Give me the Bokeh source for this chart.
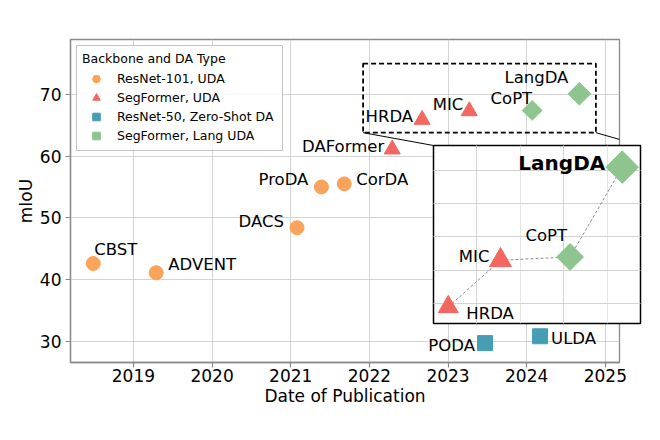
import math
from bokeh.plotting import figure
from bokeh.models import ColumnDataSource, Arrow, Grid, SingleIntervalTicker, FixedTicker
from bokeh.core.properties import value
from bokeh.embed import file_html
from bokeh.resources import INLINE

# ---------------- data ----------------
resnet101_names = ["CBST", "ADVENT", "DACS", "ProDA", "CorDA"]
resnet101_dates = [2018.49, 2019.29, 2021.08, 2021.39, 2021.68]
resnet101_miou = [42.6, 41.1, 48.4, 55.0, 55.5]

segformer_names = ["DAFormer", "HRDA", "MIC"]
segformer_dates = [2022.29, 2022.67, 2023.27]
segformer_miou = [61.1, 65.9, 67.3]

resnet50_zs_names = ["PODA", "ULDA"]
resnet50_zs_dates = [2023.47, 2024.17]
resnet50_zs_miou = [29.7, 30.8]

lang_names = ["CoPT", "LangDA"]
lang_dates = [2024.07, 2024.67]
lang_miou = [67.4, 70.1]

year_ticks = [2019, 2020, 2021, 2022, 2023, 2024, 2025]
miou_ticks = [30, 40, 50, 60, 70]

inset_names = ["HRDA", "MIC", "CoPT", "LangDA"]
zoom_box_x = [2021.92, 2024.88]
zoom_box_y = [63.8, 75.0]
inset_x_lim = [2022.5, 2024.88]
inset_y_lim = [65.4, 70.75]

# ---------------- style ----------------
FONT = "DejaVu Sans"
C_ORANGE = "#F9A35B"
C_RED = "#F26760"
C_TEAL = "#469EB4"
C_GREEN = "#8EC48E"
GRID = "#d3d3d3"
SPINE = "#8a8a8a"

main_size = {"CoPT": 14, "LangDA": 16}
inset_size = {"HRDA": 20, "MIC": 22, "CoPT": 19, "LangDA": 23}

main_lab = {
    "CBST": (1, -14, "left"), "ADVENT": (12, -8, "left"), "DACS": (-13, -6, "right"),
    "ProDA": (-13, -7, "right"), "CorDA": (12, -4, "left"), "DAFormer": (-8, -3, "right"),
    "HRDA": (-9, -3, "right"), "MIC": (-6, -7, "right"), "CoPT": (0, -12, "right"),
    "LangDA": (-11, -16, "right"), "PODA": (-10, 2, "right"), "ULDA": (11, 2, "left"),
}
inset_lab = {
    "HRDA": (18, 7, "left", "16.5px", "normal"), "MIC": (-11, -4, "right", "16.5px", "normal"),
    "CoPT": (-3, -21, "right", "16.5px", "normal"), "LangDA": (-17, -4, "right", "20px", "bold"),
}

W, H = 660, 440
ML, MR, MT, MB = 70, 41, 39, 78
X_RANGE = (2018.2, 2025.18)
Y_RANGE = (26.55, 78.9)

p = figure(width=W, height=H, x_range=X_RANGE, y_range=Y_RANGE,
           min_border_left=ML, min_border_right=MR, min_border_top=MT, min_border_bottom=MB,
           output_backend="svg", toolbar_location=None)
p.background_fill_color = "white"
p.border_fill_color = "white"
p.outline_line_color = SPINE
p.outline_line_width = 1.3

p.xaxis.ticker = FixedTicker(ticks=year_ticks)
p.yaxis.ticker = FixedTicker(ticks=miou_ticks)
p.xaxis.axis_label = "Date of Publication"
p.yaxis.axis_label = "mIoU"
for ax in p.axis:
    ax.axis_line_color = SPINE
    ax.axis_line_width = 1.3
    ax.major_tick_line_color = SPINE
    ax.major_tick_line_width = 1.2
    ax.major_tick_out = 5
    ax.major_tick_in = 0
    ax.minor_tick_out = 0
    ax.minor_tick_in = 0
    ax.major_label_text_font = FONT
    ax.major_label_text_font_size = "17px"
    ax.major_label_text_color = "black"
    ax.axis_label_text_font = FONT
    ax.axis_label_text_font_size = "17px"
    ax.axis_label_text_font_style = "normal"
    ax.axis_label_text_color = "black"
p.xaxis.major_label_standoff = 1
p.xaxis.axis_label_standoff = 1
p.yaxis.major_label_standoff = 4
p.yaxis.axis_label_standoff = 1
p.grid.grid_line_color = GRID
p.grid.grid_line_width = 1

groups = [
    (resnet101_names, resnet101_dates, resnet101_miou, "circle", C_ORANGE, "ResNet-101, UDA", 14, 0.0),
    (segformer_names, segformer_dates, segformer_miou, "triangle", C_RED, "SegFormer, UDA", 16, 0.0),
    (resnet50_zs_names, resnet50_zs_dates, resnet50_zs_miou, "square", C_TEAL, "ResNet-50, Zero-Shot DA", 15, 0.0),
    (lang_names, lang_dates, lang_miou, "square", C_GREEN, "SegFormer, Lang UDA", 14, math.pi / 4),
]

all_names, all_x, all_y = [], [], []
for names, xs, ys, marker, color, label, base_size, ang in groups:
    src = ColumnDataSource(dict(x=xs, y=ys, name=names,
                                size=[main_size.get(n, base_size) for n in names]))
    p.scatter("x", "y", source=src, marker=marker, size="size", angle=ang,
              fill_color=color, line_color=color, fill_alpha=1.0, legend_label=label)
    all_names += names
    all_x += xs
    all_y += ys

lab_src = ColumnDataSource(dict(
    x=all_x, y=all_y, text=all_names,
    dx=[main_lab[n][0] for n in all_names],
    dy=[main_lab[n][1] for n in all_names],
    align=[main_lab[n][2] for n in all_names],
))
p.text("x", "y", text="text", source=lab_src, x_offset="dx", y_offset="dy",
       text_align="align", text_baseline="alphabetic", text_font=value(FONT),
       text_font_size="16.5px", text_color="black")

p.quad(left=[zoom_box_x[0]], right=[zoom_box_x[1]], bottom=[zoom_box_y[0]], top=[zoom_box_y[1]],
       fill_color=None, line_color="black", line_width=1.8, line_dash="5 3")

IN_L, IN_T, IN_W, IN_H = 433, 145, 207, 178
frame_w = W - ML - MR
frame_h = H - MT - MB
def px_to_x(px):
    return X_RANGE[0] + (px - ML) / frame_w * (X_RANGE[1] - X_RANGE[0])
def py_to_y(py):
    return Y_RANGE[1] - (py - MT) / frame_h * (Y_RANGE[1] - Y_RANGE[0])

for xs_, xe_ in [(zoom_box_x[0], px_to_x(IN_L)), (zoom_box_x[1], px_to_x(IN_L + IN_W))]:
    p.add_layout(Arrow(end=None, x_start=xs_, y_start=zoom_box_y[0], x_end=xe_,
                       y_end=py_to_y(IN_T), line_color="black", line_width=1))

leg = p.legend[0]
leg.title = "Backbone and DA Type"
leg.location = "top_left"
leg.margin = 6
leg.padding = 5
leg.glyph_width = 28
leg.glyph_height = 19
leg.label_height = 19
leg.label_width = 160
leg.spacing = 0
leg.label_standoff = 7
leg.title_standoff = 3
leg.label_text_font = FONT
leg.label_text_font_size = "12.5px"
leg.label_text_color = "black"
leg.title_text_font = FONT
leg.title_text_font_size = "12.5px"
leg.title_text_font_style = "normal"
leg.title_text_color = "black"
leg.border_line_color = "#8a8a8a"
leg.border_line_width = 1.2
leg.background_fill_alpha = 0.85

# ---------------- inset ----------------
B = 2
ins = figure(width=IN_W + 2 * B, height=IN_H + 2 * B, x_range=tuple(inset_x_lim), y_range=tuple(inset_y_lim),
             min_border=B, min_border_left=B, min_border_right=B, min_border_top=B, min_border_bottom=B,
             x_axis_location=None, y_axis_location=None,
             output_backend="svg", toolbar_location=None)
ins.border_fill_color = None
ins.background_fill_color = "white"
ins.outline_line_color = "black"
ins.outline_line_width = 1.5
ins.add_layout(Grid(dimension=0, ticker=SingleIntervalTicker(interval=1), grid_line_color=GRID))
ins.add_layout(Grid(dimension=1, ticker=SingleIntervalTicker(interval=1), grid_line_color=GRID))

lookup = {}
for names, xs, ys, marker, color, label, base_size, ang in groups:
    for n, xv, yv in zip(names, xs, ys):
        lookup[n] = (xv, yv, marker, color, ang)

in_x = [lookup[n][0] for n in inset_names]
in_y = [lookup[n][1] for n in inset_names]
ins.line(in_x, in_y, line_color="#8c8c8c", line_width=1, line_dash="3 2")
for n in inset_names:
    xv, yv, marker, color, ang = lookup[n]
    ins.scatter([xv], [yv], marker=marker, size=inset_size[n], angle=ang,
                fill_color=color, line_color=color)
ilab = ColumnDataSource(dict(
    x=in_x, y=in_y, text=inset_names,
    dx=[inset_lab[n][0] for n in inset_names],
    dy=[inset_lab[n][1] for n in inset_names],
    align=[inset_lab[n][2] for n in inset_names],
    fs=[inset_lab[n][3] for n in inset_names],
    fst=[inset_lab[n][4] for n in inset_names],
))
ins.text("x", "y", text="text", source=ilab, x_offset="dx", y_offset="dy", text_align="align",
         text_baseline="alphabetic", text_font=value(FONT), text_font_size="fs",
         text_font_style="fst", text_color="black")

ins.styles = {"position": "absolute", "left": f"{IN_L - B}px", "top": f"{IN_T - B}px"}

open("out.html", "w").write(file_html([p, ins], INLINE))
